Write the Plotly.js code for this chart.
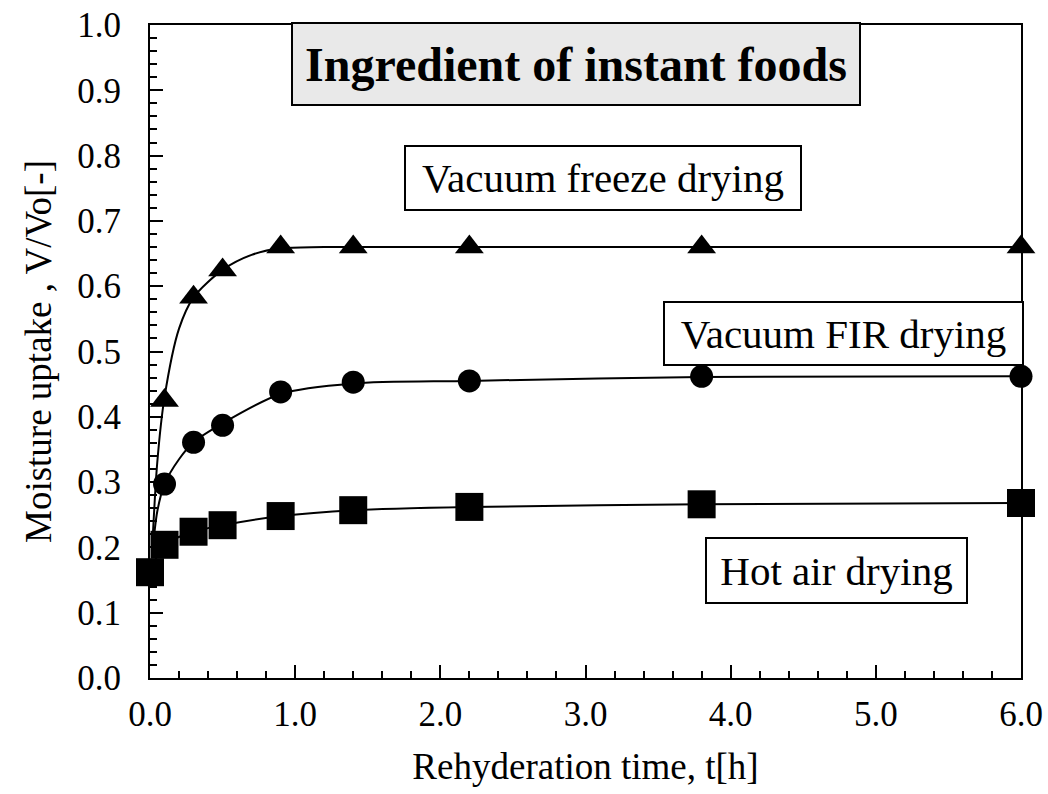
<!DOCTYPE html>
<html>
<head>
<meta charset="utf-8">
<script src="https://cdn.plot.ly/plotly-3.0.1.min.js"></script>
<style>html,body{margin:0;padding:0;background:#fff;}#chart{width:1048px;height:794px;}</style>
</head>
<body>
<div id="chart"></div>
<script>
// Marker data
var timeFreeze = [0.1, 0.3, 0.5, 0.9, 1.4, 2.2, 3.8, 6.0];
var uptakeFreeze = [0.425, 0.583, 0.625, 0.66, 0.66, 0.66, 0.66, 0.66];
var timeFIR = [0.1, 0.3, 0.5, 0.9, 1.4, 2.2, 3.8, 6.0];
var uptakeFIR = [0.297, 0.361, 0.387, 0.438, 0.453, 0.455, 0.462, 0.462];
var timeHot = [0.0, 0.1, 0.3, 0.5, 0.9, 1.4, 2.2, 3.8, 6.0];
var uptakeHot = [0.162, 0.204, 0.224, 0.234, 0.248, 0.257, 0.262, 0.266, 0.268];

// Fitted curve traces
var curveFreezeT = [0.02, 0.05, 0.1, 0.2, 0.3, 0.5, 0.7, 0.9, 1.2, 6.0];
var curveFreezeV = [0.22, 0.33, 0.43, 0.535, 0.583, 0.625, 0.648, 0.658, 0.66, 0.66];
var curveFIRT = [0.02, 0.05, 0.1, 0.2, 0.3, 0.5, 0.9, 1.4, 2.2, 3.8, 6.0];
var curveFIRV = [0.2, 0.255, 0.297, 0.335, 0.361, 0.39, 0.435, 0.451, 0.455, 0.461, 0.462];
var curveHotT = [0.0, 0.1, 0.3, 0.5, 0.9, 1.4, 2.2, 3.8, 6.0];
var curveHotV = [0.162, 0.204, 0.224, 0.234, 0.248, 0.257, 0.262, 0.266, 0.268];

var xTickVals = [0, 1, 2, 3, 4, 5, 6];
var xTickText = ['0.0', '1.0', '2.0', '3.0', '4.0', '5.0', '6.0'];
var yTickVals = [0, 0.1, 0.2, 0.3, 0.4, 0.5, 0.6, 0.7, 0.8, 0.9, 1.0];
var yTickText = ['0.0', '0.1', '0.2', '0.3', '0.4', '0.5', '0.6', '0.7', '0.8', '0.9', '1.0'];

var titleText = 'Ingredient of instant foods';
var labelFreeze = 'Vacuum freeze drying';
var labelFIR = 'Vacuum FIR drying';
var labelHot = 'Hot air drying';

var serif = 'Liberation Serif, Times New Roman, serif';
var lineStyle = {color: '#000', width: 2, shape: 'spline', smoothing: 0.8};

var traces = [
  {x: curveFreezeT, y: curveFreezeV, mode: 'lines', line: lineStyle, cliponaxis: false, hoverinfo: 'skip'},
  {x: curveFIRT, y: curveFIRV, mode: 'lines', line: lineStyle, cliponaxis: false, hoverinfo: 'skip'},
  {x: curveHotT, y: curveHotV, mode: 'lines', line: lineStyle, cliponaxis: false, hoverinfo: 'skip'},
  {x: timeFreeze, y: uptakeFreeze, mode: 'markers', cliponaxis: false,
   marker: {symbol: 'triangle-up', size: 25, color: '#000'}},
  {x: timeFIR, y: uptakeFIR, mode: 'markers', cliponaxis: false,
   marker: {symbol: 'circle', size: 23, color: '#000'}},
  {x: timeHot, y: uptakeHot, mode: 'markers', cliponaxis: false,
   marker: {symbol: 'square', size: 28, color: '#000'}}
];

function box(text, cx, cy, w, h, bold, bg, size) {
  return {
    xref: 'paper', yref: 'paper', x: cx, y: cy, xanchor: 'center', yanchor: 'middle',
    text: bold ? '<b>' + text + '</b>' : text, showarrow: false,
    font: {family: serif, size: size, color: '#000'},
    bgcolor: bg, bordercolor: '#000', borderwidth: 2, borderpad: 0,
    width: w, height: h
  };
}

var layout = {
  width: 1048, height: 794,
  margin: {l: 150, r: 27, t: 25, b: 116},
  paper_bgcolor: '#fff', plot_bgcolor: '#fff',
  showlegend: false,
  font: {family: serif, color: '#000'},
  xaxis: {
    range: [0, 6], tickvals: xTickVals, ticktext: xTickText,
    ticks: 'inside', ticklen: 13, tickwidth: 2, tickcolor: '#000',
    minor: {dtick: 0.2, ticks: 'inside', ticklen: 7, tickwidth: 2, tickcolor: '#000'},
    showline: true, linecolor: '#000', linewidth: 2, mirror: true,
    showgrid: false, zeroline: false,
    tickfont: {family: serif, size: 35, color: '#000'},
    ticklabelstandoff: 4,
    title: {text: 'Rehyderation time, t[h]', font: {family: serif, size: 37, color: '#000'}, standoff: 20}
  },
  yaxis: {
    range: [0, 1.0], tickvals: yTickVals, ticktext: yTickText,
    ticks: 'inside', ticklen: 13, tickwidth: 2, tickcolor: '#000',
    minor: {dtick: 0.02, ticks: 'inside', ticklen: 7, tickwidth: 2, tickcolor: '#000'},
    showline: true, linecolor: '#000', linewidth: 2, mirror: true,
    showgrid: false, zeroline: false,
    tickfont: {family: serif, size: 35, color: '#000'},
    ticklabelstandoff: 20,
    title: {text: 'Moisture uptake , V/Vo[-]', font: {family: serif, size: 37, color: '#000'}, standoff: 14}
  },
  annotations: [
    box(titleText, 0.489, 0.940, 566, 80, true, '#e9e9e9', 48),
    box(labelFreeze, 0.520, 0.765, 394, 62, false, '#fff', 41),
    box(labelFIR, 0.796, 0.527, 357, 61, false, '#fff', 41),
    box(labelHot, 0.788, 0.164, 259, 63, false, '#fff', 41)
  ]
};

Plotly.newPlot('chart', traces, layout, {displayModeBar: false, staticPlot: true});
</script>
</body>
</html>
